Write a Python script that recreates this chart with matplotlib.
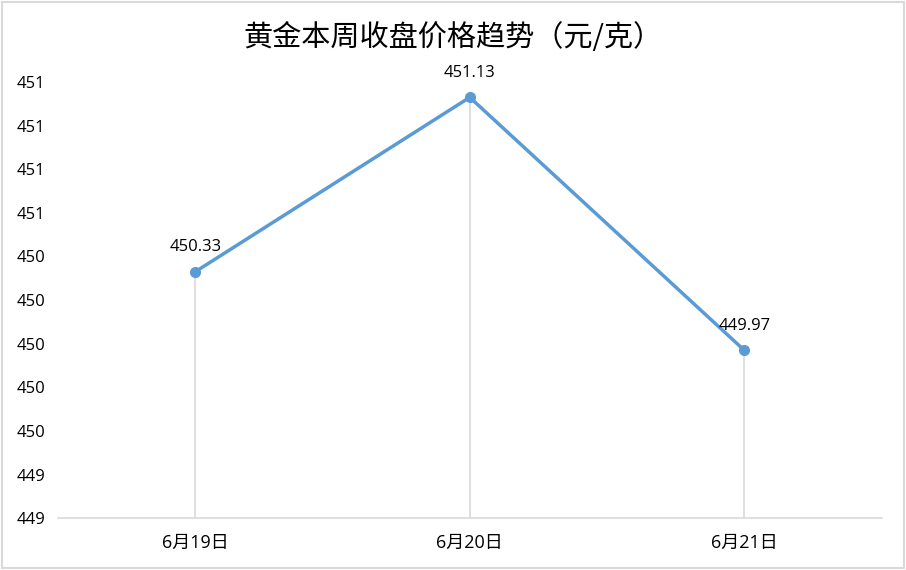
import numpy as np
import matplotlib
matplotlib.use("Agg")
import matplotlib.pyplot as plt
from matplotlib.ticker import FuncFormatter, MultipleLocator

plt.rcParams['font.family'] = ['Open Sans', 'Noto Sans CJK SC', 'DejaVu Sans']

# data
dates = ["6月19日", "6月20日", "6月21日"]
prices = [450.33, 451.13, 449.97]
title = "黄金本周收盘价格趋势（元/克）"

fig = plt.figure(figsize=(9.06, 5.70), dpi=100)
ax = fig.add_axes([0.064, 0.091, 0.909, 0.765])

x = np.arange(len(dates))
ymin, ymax = 449.2, 451.2

# drop lines from each point down to the axis
ax.vlines(x, ymin, prices, color="#D9D9D9", linewidth=1.2, zorder=1)
ax.plot(x, prices, color="#5B9BD5", linewidth=2.5, marker="o", markersize=7, zorder=3)

for xi, p in zip(x, prices):
    ax.annotate(f"{p:.2f}", (xi, p), xytext=(0, 12), textcoords="offset points",
                ha="center", va="bottom", fontsize=12, color="#000000")

ax.set_xlim(-0.5, 2.5)
ax.set_ylim(ymin, ymax)
ax.yaxis.set_major_locator(MultipleLocator(0.2))
ax.yaxis.set_major_formatter(FuncFormatter(lambda v, pos: f"{v:.0f}"))
ax.set_xticks(x)
ax.set_xticklabels(dates)

for s in ["top", "right", "left"]:
    ax.spines[s].set_visible(False)
ax.spines["bottom"].set_color("#D9D9D9")
ax.spines["bottom"].set_linewidth(1.2)
ax.tick_params(axis="both", length=0, colors="#000000")
ax.tick_params(axis="y", pad=9, labelsize=12)
ax.tick_params(axis="x", pad=11, labelsize=13)

fig.text(0.5, 0.933, title, family=['Noto Sans CJK SC', 'DejaVu Sans'],
         ha="center", va="center", fontsize=21, color="#000000")

# light gray frame around the whole chart
fig.patches.append(plt.Rectangle((0.002, 0.003), 0.996, 0.994, transform=fig.transFigure,
                                 fill=False, edgecolor="#D9D9D9", linewidth=1.5))

fig.savefig("out.png", dpi=100, facecolor="white")
